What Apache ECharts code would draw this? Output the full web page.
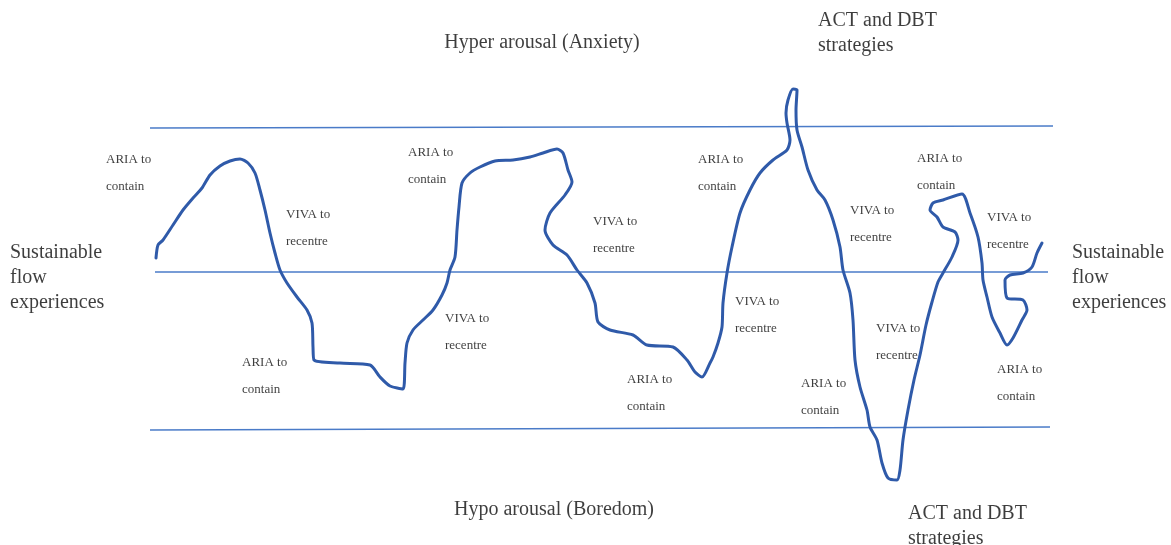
<!DOCTYPE html>
<html>
<head>
<meta charset="utf-8">
<title>Window of tolerance</title>
<script src="https://cdn.jsdelivr.net/npm/echarts@6/dist/echarts.min.js"></script>
<style>
  html, body { margin: 0; padding: 0; background: #fff; }
  #chart { width: 1171px; height: 545px; }
</style>
</head>
<body>
<div id="chart"></div>
<script>
// arousal path (x across, y down)
const arousalPath = [
  [156, 258], [158, 245], [163, 240], [173, 225], [183, 210], [193, 198], [202, 188], [210, 175],
  [220, 166], [230, 161], [240, 159], [248, 163], [255, 173], [260, 190], [265, 210], [270, 233],
  [275, 253], [280, 270], [287, 283], [297, 297], [307, 310], [312, 323], [313, 347], [314, 360],
  [340, 363], [370, 365], [380, 377], [390, 386], [403, 389], [405, 363], [407, 343], [413, 330],
  [423, 320], [433, 310], [442, 295], [447, 283], [450, 270], [455, 257], [457, 230], [459, 207],
  [462, 183], [470, 173], [480, 167], [495, 161], [513, 160], [530, 157], [543, 153], [557, 149],
  [563, 153], [568, 170], [572, 182], [565, 195], [550, 213], [545, 230], [553, 245], [567, 255],
  [577, 270], [587, 283], [595, 303], [598, 322], [610, 330], [633, 335], [647, 345], [673, 347],
  [687, 360], [695, 372], [702, 377], [710, 363], [713, 357], [718, 343], [722, 327], [723, 303],
  [727, 273], [732, 247], [740, 213], [750, 190], [760, 173], [773, 160], [787, 150], [790, 140],
  [787, 123], [786, 113], [788, 100], [793, 89], [797, 90], [796, 110], [797, 130], [802, 147],
  [808, 170], [817, 190], [825, 200], [833, 220], [840, 247], [843, 270], [850, 293], [853, 320],
  [855, 360], [860, 387], [867, 410], [870, 427], [877, 440], [882, 463], [888, 478], [897, 480],
  [900, 470], [903, 440], [908, 410], [914, 380], [920, 355], [926, 325], [932, 302], [938, 282],
  [943, 273], [952, 257], [958, 240], [955, 232], [943, 227], [937, 217], [930, 210], [933, 203],
  [943, 200], [962, 194], [970, 213], [978, 237], [982, 263], [983, 280], [987, 297], [992, 317],
  [1000, 333], [1007, 345], [1013, 338], [1022, 320], [1027, 310], [1023, 300], [1007, 298],
  [1005, 280], [1010, 275], [1023, 273], [1032, 267], [1037, 253], [1042, 243]
]

// zone boundaries: [x start, y start, x end, y end]
const upperBound = [[150, 128], [1053, 126]]
const midLine = [[155, 272], [1048, 272]]
const lowerBound = [[150, 430], [1050, 427]]

// small strategy notes: text, left x, middle y
const notes = [
  ['ARIA to\ncontain', 106, 173],
  ['VIVA to\nrecentre', 286, 228],
  ['ARIA to\ncontain', 242, 376],
  ['ARIA to\ncontain', 408, 166],
  ['VIVA to\nrecentre', 445, 332],
  ['VIVA to\nrecentre', 593, 235],
  ['ARIA to\ncontain', 627, 393],
  ['ARIA to\ncontain', 698, 173],
  ['VIVA to\nrecentre', 735, 315],
  ['VIVA to\nrecentre', 850, 224],
  ['VIVA to\nrecentre', 876, 342],
  ['ARIA to\ncontain', 801, 397],
  ['ARIA to\ncontain', 917, 172],
  ['VIVA to\nrecentre', 987, 231],
  ['ARIA to\ncontain', 997, 383]
]

// large headings
const zoneTitles = [
  ['Hyper arousal (Anxiety)', 542, 43],
  ['Hypo arousal (Boredom)', 554, 510]
]
const sideTitles = [
  ['Sustainable\nflow\nexperiences', 10, 278],
  ['Sustainable\nflow\nexperiences', 1072, 278],
  ['ACT and DBT\nstrategies', 818, 33],
  ['ACT and DBT\nstrategies', 908, 526]
]

const chart = echarts.init(document.getElementById('chart'))

const textColor = '#0d0d0d'
const serif = "'Liberation Serif', 'DejaVu Serif', serif"

const boundSeries = (pts) => ({
  type: 'line',
  data: pts,
  symbol: 'none',
  silent: true,
  lineStyle: { color: '#4a7bc8', width: 1.5 },
  z: 1
})

const textSeries = (rows, size, lh, align) => ({
  type: 'scatter',
  symbolSize: 0,
  silent: true,
  data: rows.map(r => ({ name: r[0], value: [r[1], r[2]] })),
  label: {
    show: true,
    position: 'inside',
    formatter: p => p.name,
    align: align,
    verticalAlign: 'middle',
    fontFamily: serif,
    fontSize: size,
    lineHeight: lh,
    color: textColor,
    textBorderWidth: 0
  },
  z: 3
})

chart.setOption({
  animation: false,
  backgroundColor: '#ffffff',
  grid: { left: 0, right: 0, top: 0, bottom: 0 },
  xAxis: { type: 'value', min: 0, max: 1171, show: false },
  yAxis: { type: 'value', min: 0, max: 545, inverse: true, show: false },
  series: [
    boundSeries(upperBound),
    boundSeries(midLine),
    boundSeries(lowerBound),
    {
      type: 'line',
      data: arousalPath,
      symbol: 'none',
      smooth: 0.25,
      silent: true,
      lineStyle: { color: '#2f5aa9', width: 3, cap: 'round', join: 'round' },
      z: 2
    },
    textSeries(notes, 13, 27, 'left'),
    textSeries(zoneTitles, 20, 26, 'center'),
    textSeries(sideTitles, 20, 25, 'left')
  ]
})

window.addEventListener('resize', () => chart.resize())
</script>
</body>
</html>
